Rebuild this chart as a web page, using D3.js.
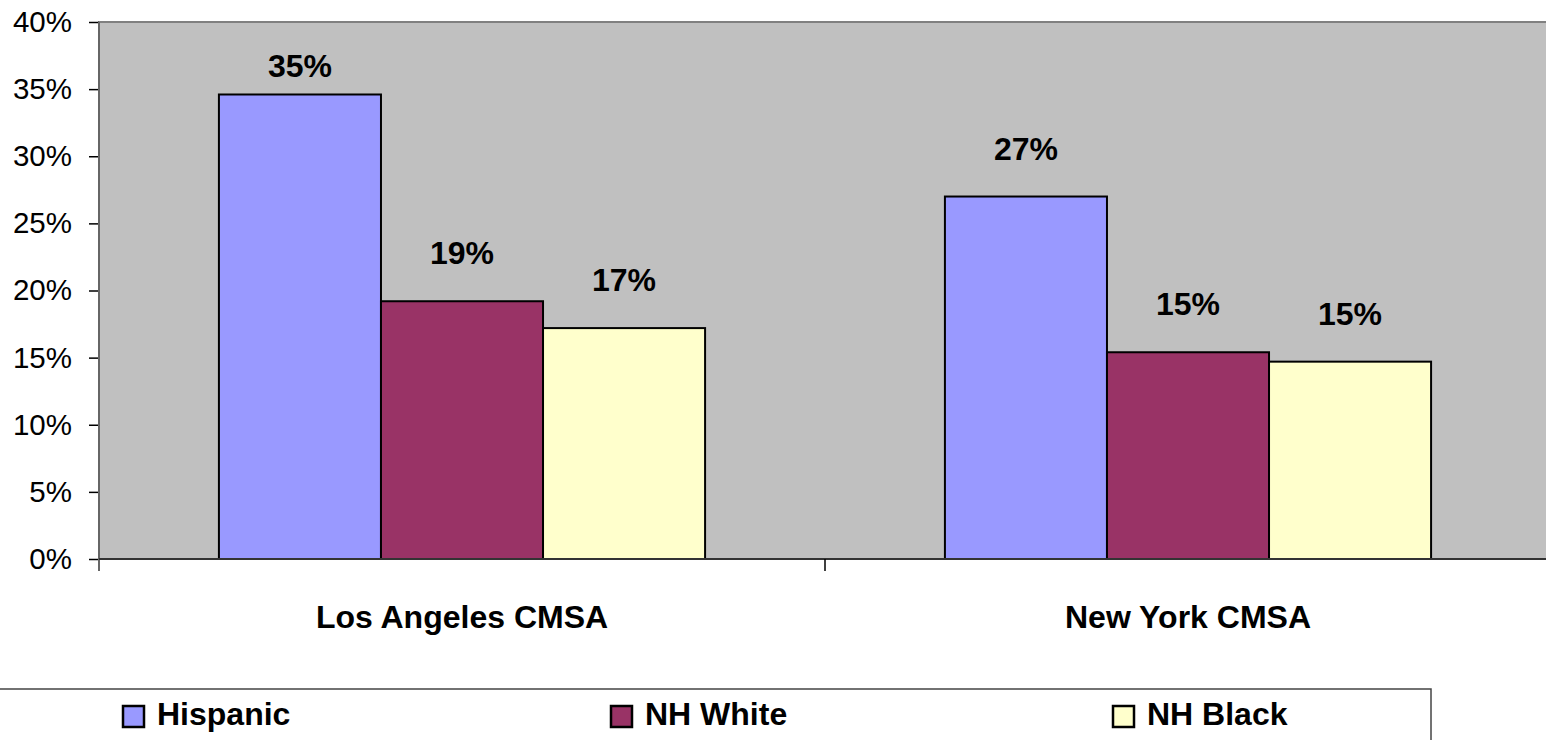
<!DOCTYPE html>
<html>
<head>
<meta charset="utf-8">
<script src="https://cdn.jsdelivr.net/npm/d3@7"></script>
<style>
  body { margin: 0; background: #fff; overflow: hidden; }
  text { font-family: 'Liberation Sans', Arial, sans-serif; }
</style>
</head>
<body>
<div id="chart"></div>
<script>
// Data
var categories = ['Los Angeles CMSA', 'New York CMSA'];
var seriesNames = ['Hispanic', 'NH White', 'NH Black'];
var hispanic = [34.6, 27.0];
var nhWhite = [19.2, 15.4];
var nhBlack = [17.2, 14.7];
var valueLabels = [['35%', '27%'], ['19%', '15%'], ['17%', '15%']];
var yTicks = [0, 5, 10, 15, 20, 25, 30, 35, 40];

var seriesValues = [hispanic, nhWhite, nhBlack];
var colors = ['#9999FF', '#993366', '#FFFFCC'];

var width = 1546, height = 740;
var plot = { left: 99, top: 22, right: 1551, bottom: 559 };

var svg = d3.select('#chart').append('svg')
            .attr('width', width)
            .attr('height', height);

var x0 = d3.scaleBand()
           .domain(categories)
           .range([plot.left, plot.right]);

var x1 = d3.scaleBand()
           .domain(seriesNames)
           .range([0, x0.bandwidth()])
           .paddingOuter(0.74)
           .paddingInner(0);

var y = d3.scaleLinear()
          .domain([0, 40])
          .range([plot.bottom, plot.top]);

// Plot area background
svg.append('rect')
   .attr('x', plot.left)
   .attr('y', plot.top)
   .attr('width', plot.right - plot.left)
   .attr('height', plot.bottom - plot.top)
   .attr('fill', '#C0C0C0')
   .attr('stroke', '#808080')
   .attr('stroke-width', 2);

// Bars
var groups = svg.selectAll('g.series')
                .data(seriesNames)
                .enter()
                .append('g')
                .classed('series', true);

groups.each(function(name, si) {
  var g = d3.select(this);
  g.selectAll('rect')
   .data(seriesValues[si])
   .enter()
   .append('rect')
   .attr('x', function(d, ci) { return x0(categories[ci]) + x1(name); })
   .attr('y', function(d) { return y(d); })
   .attr('width', x1.bandwidth())
   .attr('height', function(d) { return y(0) - y(d); })
   .attr('fill', colors[si])
   .attr('stroke', '#000')
   .attr('stroke-width', 2);

  g.selectAll('text')
   .data(seriesValues[si])
   .enter()
   .append('text')
   .attr('x', function(d, ci) { return x0(categories[ci]) + x1(name) + x1.bandwidth() / 2; })
   .attr('y', function(d) { return Math.max(y(d) - 37, y(40) + 55); })
   .attr('text-anchor', 'middle')
   .attr('font-size', 32)
   .attr('font-weight', 'bold')
   .attr('fill', '#000')
   .text(function(d, ci) { return valueLabels[si][ci]; });
});

// Y axis
var yAxis = d3.axisLeft(y)
              .tickValues(yTicks)
              .tickSize(10)
              .tickPadding(17)
              .tickFormat(function(d) { return d + '%'; });

var yAxisG = svg.append('g')
                .attr('transform', 'translate(' + plot.left + ',0)')
                .call(yAxis);
yAxisG.select('.domain').remove();
yAxisG.selectAll('text')
      .attr('font-size', 29.5)
      .attr('font-family', "'Liberation Sans', Arial, sans-serif")
      .attr('fill', '#000');
yAxisG.selectAll('line').attr('stroke', '#000').attr('stroke-width', 1.5);

svg.append('line')
   .attr('x1', plot.left).attr('x2', plot.left)
   .attr('y1', plot.top).attr('y2', plot.bottom + 12)
   .attr('stroke', '#666')
   .attr('stroke-width', 2);

// X axis
svg.append('line')
   .attr('x1', plot.left).attr('x2', plot.right)
   .attr('y1', plot.bottom).attr('y2', plot.bottom)
   .attr('stroke', '#333')
   .attr('stroke-width', 2);

svg.selectAll('line.xtick')
   .data(categories.slice(1))
   .enter()
   .append('line')
   .classed('xtick', true)
   .attr('x1', function(d) { return x0(d); })
   .attr('x2', function(d) { return x0(d); })
   .attr('y1', plot.bottom)
   .attr('y2', plot.bottom + 12)
   .attr('stroke', '#000')
   .attr('stroke-width', 1.5);

svg.selectAll('text.category')
   .data(categories)
   .enter()
   .append('text')
   .classed('category', true)
   .attr('x', function(d) { return x0(d) + x0.bandwidth() / 2; })
   .attr('y', 628)
   .attr('text-anchor', 'middle')
   .attr('font-size', 32)
   .attr('font-weight', 'bold')
   .text(function(d) { return d; });

// Legend
svg.append('rect')
   .attr('x', -10)
   .attr('y', 689)
   .attr('width', 1441)
   .attr('height', 80)
   .attr('fill', '#fff')
   .attr('stroke', '#444')
   .attr('stroke-width', 1.5);

var legendX = [122, 610, 1112];
var legend = svg.selectAll('g.legend-item')
                .data(seriesNames)
                .enter()
                .append('g')
                .classed('legend-item', true)
                .attr('transform', function(d, i) { return 'translate(' + legendX[i] + ',705)'; });

legend.append('rect')
      .attr('x', 1)
      .attr('y', 1)
      .attr('width', 21)
      .attr('height', 21)
      .attr('fill', function(d, i) { return colors[i]; })
      .attr('stroke', '#000')
      .attr('stroke-width', 2.5);

legend.append('text')
      .attr('x', 35)
      .attr('y', 20)
      .attr('font-size', 32)
      .attr('font-weight', 'bold')
      .text(function(d) { return d; });
</script>
</body>
</html>
